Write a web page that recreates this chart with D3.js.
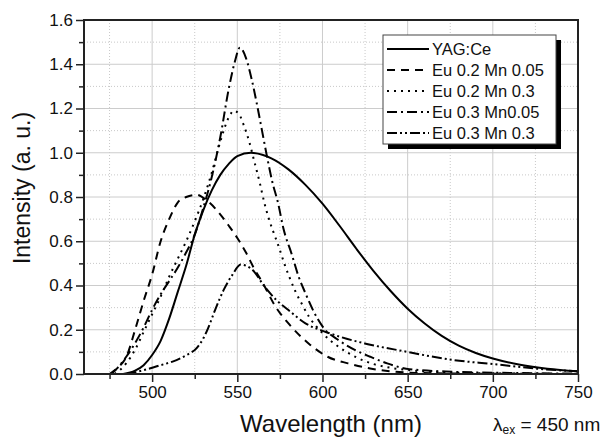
<!DOCTYPE html>
<html>
<head>
<meta charset="utf-8">
<script src="https://cdn.jsdelivr.net/npm/d3@7/dist/d3.min.js"></script>
<style>
  body { margin: 0; background: #fff; }
  svg { display: block; font-family: "Liberation Sans", Arial, sans-serif; }
  .tick text { font-size: 17px; fill: #111; }
</style>
</head>
<body>
<svg id="chart" width="608" height="439"></svg>
<script>
// -------------------------------------------------------------------------
// Data

const xMajor = [500, 550, 600, 650, 700, 750];
const xMinor = [475, 525, 575, 625, 675, 725];
const yMajor = [0, 0.2, 0.4, 0.6, 0.8, 1.0, 1.2, 1.4, 1.6];
const yMinor = [0.1, 0.3, 0.5, 0.7, 0.9, 1.1, 1.3, 1.5];

const yagWl = [483, 490, 495, 500, 505, 510, 515, 520, 525, 530, 535, 540, 545, 550, 558, 570, 580, 590, 600, 610, 620, 630, 640, 650, 660, 670, 680, 690, 700, 716, 732, 750];
const yagI = [0, 0.015, 0.04, 0.086, 0.15, 0.25, 0.37, 0.49, 0.63, 0.74, 0.83, 0.9, 0.95, 0.985, 1.0, 0.975, 0.925, 0.855, 0.77, 0.67, 0.565, 0.465, 0.375, 0.295, 0.228, 0.172, 0.128, 0.095, 0.07, 0.042, 0.024, 0.012];

const eu02mn005Wl = [475, 480, 485, 490, 495, 500, 505, 510, 515, 520, 526, 532, 538, 545, 550, 555, 560, 565, 572, 581, 592, 603, 615, 628, 640, 655, 680, 710, 750];
const eu02mn005I = [0, 0.03, 0.08, 0.2, 0.33, 0.45, 0.6, 0.7, 0.775, 0.8, 0.81, 0.785, 0.74, 0.67, 0.615, 0.55, 0.475, 0.41, 0.31, 0.22, 0.137, 0.078, 0.048, 0.025, 0.012, 0.005, 0.002, 0.001, 0];

const eu02mn03Wl = [478, 485, 490, 495, 500, 505, 510, 515, 520, 525, 530, 535, 540, 545, 548, 551, 554, 557, 560, 563, 566, 569, 572, 575, 578, 581, 584, 588, 592, 600, 610, 620, 630, 640, 650, 670, 700, 750];
const eu02mn03I = [0, 0.05, 0.11, 0.19, 0.27, 0.35, 0.44, 0.52, 0.6, 0.69, 0.79, 0.91, 1.05, 1.16, 1.19, 1.175, 1.12, 1.05, 0.96, 0.87, 0.77, 0.69, 0.625, 0.56, 0.49, 0.43, 0.375, 0.315, 0.26, 0.185, 0.12, 0.075, 0.045, 0.028, 0.018, 0.008, 0.003, 0];

const eu03mn005Wl = [476, 480, 485, 490, 495, 500, 505, 510, 515, 520, 525, 530, 535, 540, 545, 548.5, 551.5, 555, 558.5, 561.5, 564.5, 567.5, 570.5, 574, 577, 582, 586, 590, 595, 600, 610, 620, 628, 638, 651, 677, 700, 750];
const eu03mn005I = [0, 0.03, 0.08, 0.14, 0.21, 0.29, 0.36, 0.42, 0.48, 0.55, 0.63, 0.75, 0.89, 1.07, 1.29, 1.41, 1.475, 1.43, 1.33, 1.22, 1.1, 0.98, 0.87, 0.77, 0.66, 0.54, 0.44, 0.365, 0.28, 0.215, 0.15, 0.105, 0.078, 0.048, 0.022, 0.01, 0.006, 0.002];

const eu03mn03Wl = [485, 492, 499, 505, 512, 520, 526, 530, 533, 537, 542, 547, 552, 555, 559, 566, 573, 580, 590, 602, 610, 626, 647, 677, 700, 726, 750];
const eu03mn03I = [0, 0.012, 0.026, 0.04, 0.056, 0.085, 0.116, 0.16, 0.21, 0.29, 0.38, 0.447, 0.495, 0.49, 0.47, 0.395, 0.334, 0.289, 0.229, 0.19, 0.169, 0.136, 0.104, 0.063, 0.045, 0.024, 0.012];

const seriesNames = ['YAG:Ce', 'Eu 0.2 Mn 0.05', 'Eu 0.2 Mn 0.3', 'Eu 0.3 Mn0.05', 'Eu 0.3 Mn 0.3'];
const seriesWl = [yagWl, eu02mn005Wl, eu02mn03Wl, eu03mn005Wl, eu03mn03Wl];
const seriesI = [yagI, eu02mn005I, eu02mn03I, eu03mn005I, eu03mn03I];
const dashes = [null, '8,6', '2,5', '10,4,2,4', '10,3,2,3,2,3'];

// -------------------------------------------------------------------------
// Layout

const plotLeft = 84, plotRight = 578, plotTop = 20, plotBottom = 374;

const x = d3.scaleLinear().domain([460, 750]).range([plotLeft, plotRight]);
const y = d3.scaleLinear().domain([0, 1.6]).range([plotBottom, plotTop]);

const svg = d3.select('#chart');

// grid
const grid = svg.append('g');
grid.selectAll('line.vmin').data(xMinor).enter().append('line')
  .attr('x1', d => x(d)).attr('x2', d => x(d)).attr('y1', plotTop).attr('y2', plotBottom)
  .attr('stroke', '#c8c8c8').attr('stroke-dasharray', '1,2');
grid.selectAll('line.hmin').data(yMinor).enter().append('line')
  .attr('x1', plotLeft).attr('x2', plotRight).attr('y1', d => y(d)).attr('y2', d => y(d))
  .attr('stroke', '#c8c8c8').attr('stroke-dasharray', '1,2');
grid.selectAll('line.vmaj').data(xMajor).enter().append('line')
  .attr('x1', d => x(d)).attr('x2', d => x(d)).attr('y1', plotTop).attr('y2', plotBottom)
  .attr('stroke', '#cccccc');
grid.selectAll('line.hmaj').data(yMajor).enter().append('line')
  .attr('x1', plotLeft).attr('x2', plotRight).attr('y1', d => y(d)).attr('y2', d => y(d))
  .attr('stroke', '#cccccc');

// curves
const line = d3.line().curve(d3.curveMonotoneX);
const plot = svg.append('g');
seriesI.forEach(function(vals, i) {
  const pts = vals.map((v, j) => [x(seriesWl[i][j]), y(v)]);
  plot.append('path')
    .attr('d', line(pts))
    .attr('fill', 'none')
    .attr('stroke', '#000')
    .attr('stroke-width', 2)
    .attr('stroke-dasharray', dashes[i]);
});

// axes
svg.append('g').attr('transform', `translate(0,${plotBottom})`)
  .call(d3.axisBottom(x).tickValues(xMajor).tickSize(8).tickPadding(4).tickFormat(d3.format('d')));
svg.append('g').attr('transform', `translate(0,${plotBottom})`)
  .call(d3.axisBottom(x).tickValues(xMinor).tickSize(5).tickFormat(''));
svg.append('g').attr('transform', `translate(${plotLeft},0)`)
  .call(d3.axisLeft(y).tickValues(yMajor).tickSize(8).tickPadding(3).tickFormat(d3.format('.1f')));
svg.append('g').attr('transform', `translate(${plotLeft},0)`)
  .call(d3.axisLeft(y).tickValues(yMinor).tickSize(5).tickFormat(''));
svg.selectAll('.domain').remove();
svg.selectAll('.tick line').attr('stroke', '#222').attr('stroke-width', 1.5);

// frame
svg.append('rect')
  .attr('x', plotLeft).attr('y', plotTop)
  .attr('width', plotRight - plotLeft).attr('height', plotBottom - plotTop)
  .attr('fill', 'none').attr('stroke', '#222').attr('stroke-width', 2);

// legend
const lg = svg.append('g').attr('transform', 'translate(383,35)');
lg.append('rect').attr('x', 5).attr('y', 5).attr('width', 173).attr('height', 109).attr('fill', '#000');
lg.append('rect').attr('x', 0).attr('y', 0).attr('width', 173).attr('height', 109)
  .attr('fill', '#fff').attr('stroke', '#444').attr('stroke-width', 1);
seriesNames.forEach(function(name, i) {
  const ry = 14 + i * 21;
  lg.append('line')
    .attr('x1', 4).attr('x2', 46).attr('y1', ry).attr('y2', ry)
    .attr('stroke', '#000').attr('stroke-width', 2)
    .attr('stroke-dasharray', dashes[i]);
  lg.append('text')
    .attr('x', 49).attr('y', ry + 6)
    .attr('font-size', '16.5px').attr('fill', '#111')
    .text(name);
});

// titles
svg.append('text')
  .attr('x', (plotLeft + plotRight) / 2).attr('y', 432)
  .attr('text-anchor', 'middle').attr('font-size', '24px').attr('fill', '#111')
  .text('Wavelength (nm)');
svg.append('text')
  .attr('transform', 'translate(30,188) rotate(-90)')
  .attr('text-anchor', 'middle').attr('font-size', '23px').attr('fill', '#111')
  .text('Intensity (a. u.)');

const ex = svg.append('text')
  .attr('x', 493).attr('y', 431)
  .attr('font-size', '19px').attr('fill', '#111');
ex.append('tspan').text('λ');
ex.append('tspan').attr('font-size', '12px').attr('dy', 3).text('ex');
ex.append('tspan').attr('dy', -3).text(' = 450 nm');
</script>
</body>
</html>
